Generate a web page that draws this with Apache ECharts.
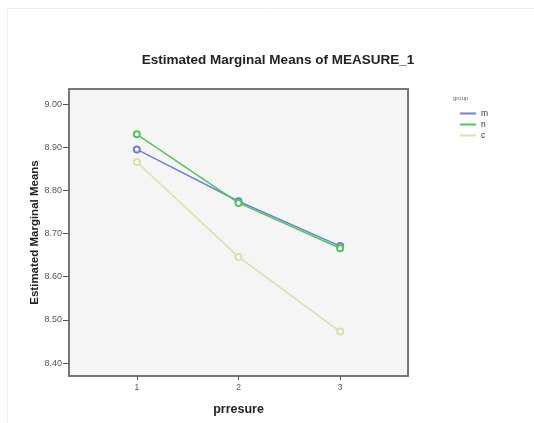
<!DOCTYPE html>
<html>
<head>
<meta charset="utf-8">
<script src="https://cdn.jsdelivr.net/npm/echarts@6/dist/echarts.min.js"></script>
<style>
html,body{margin:0;padding:0;background:#fff;}
#chart{width:534px;height:423px;}
</style>
</head>
<body>
<div id="chart"></div>
<script>
// pressure levels (x)
var levels = [1, 2, 3];
// group means
var meanM = [8.895, 8.775, 8.671];
var meanN = [8.930, 8.771, 8.666];
var meanC = [8.866, 8.646, 8.473];
var groupNames = ['m', 'n', 'c'];
var groupColors = ['#7080cc', '#52c462', '#e0dcaa'];
var yTicks = [8.40, 8.50, 8.60, 8.70, 8.80, 8.90, 9.00];

function pairs(vals){
	var out = [];
	for (var i = 0; i < levels.length; i++) out.push([levels[i], vals[i]]);
	return out;
}

var chart = echarts.init(document.getElementById('chart'));
var allMeans = [meanM, meanN, meanC];
var series = [];
for (var g = 0; g < groupNames.length; g++) {
	series.push({
		name: groupNames[g],
		type: 'line',
		data: pairs(allMeans[g]),
		symbol: 'emptyCircle',
		symbolSize: 6,
		lineStyle: {width: 1.5, color: groupColors[g]},
		itemStyle: {color: groupColors[g], borderWidth: 1},
		z: 3 + g
	});
}

chart.setOption({
	animation: false,
	backgroundColor: '#fff',
	textStyle: {fontFamily: 'Liberation Sans, Arial, sans-serif'},
	title: {
		text: 'Estimated Marginal Means of MEASURE_1',
		left: 273, top: 48, textAlign: 'center',
		textStyle: {fontSize: 13.5, fontWeight: 'bold', color: '#222'}
	},
	graphic: [
		{type: 'rect', shape: {x: 7.5, y: 8.5, width: 540, height: 420},
			style: {fill: 'none', stroke: '#eeeeee', lineWidth: 1}, z: -1},
		{type: 'text', left: 453, top: 95,
			style: {text: 'group', fontSize: 6, fill: '#666'}}
	],
	legend: {
		orient: 'vertical',
		left: 455, top: 104,
		itemWidth: 16, itemHeight: 2,
		itemGap: 2,
		icon: 'rect',
		textStyle: {fontSize: 8.5, color: '#333'},
		data: groupNames
	},
	grid: {left: 69, top: 89, width: 339, height: 287, show: true,
		backgroundColor: '#f5f5f5', borderColor: '#777', borderWidth: 2},
	xAxis: {
		type: 'value', min: 0.333, max: 3.667, interval: 1,
		name: 'prresure', nameLocation: 'middle', nameGap: 27,
		nameMoveOverlap: false,
		nameTextStyle: {fontSize: 12.5, fontWeight: 'bold', color: '#222'},
		axisLine: {show: false},
		axisTick: {show: true, length: 4, lineStyle: {color: '#555'},
			customValues: levels},
		axisLabel: {fontSize: 8.5, color: '#555', margin: 7,
			customValues: levels, formatter: function(v){ return String(v); }},
		splitLine: {show: false}
	},
	yAxis: {
		type: 'value', min: 8.37, max: 9.035,
		name: 'Estimated Marginal Means', nameLocation: 'middle', nameGap: 28,
		nameMoveOverlap: false,
		nameTextStyle: {fontSize: 11.5, fontWeight: 'bold', color: '#222'},
		axisLine: {show: false},
		axisTick: {show: true, length: 6, lineStyle: {color: '#555'},
			customValues: yTicks},
		axisLabel: {fontSize: 9, color: '#555', margin: 7,
			customValues: yTicks, formatter: function(v){ return v.toFixed(2); }},
		splitLine: {show: false}
	},
	series: series
});
</script>
</body>
</html>
